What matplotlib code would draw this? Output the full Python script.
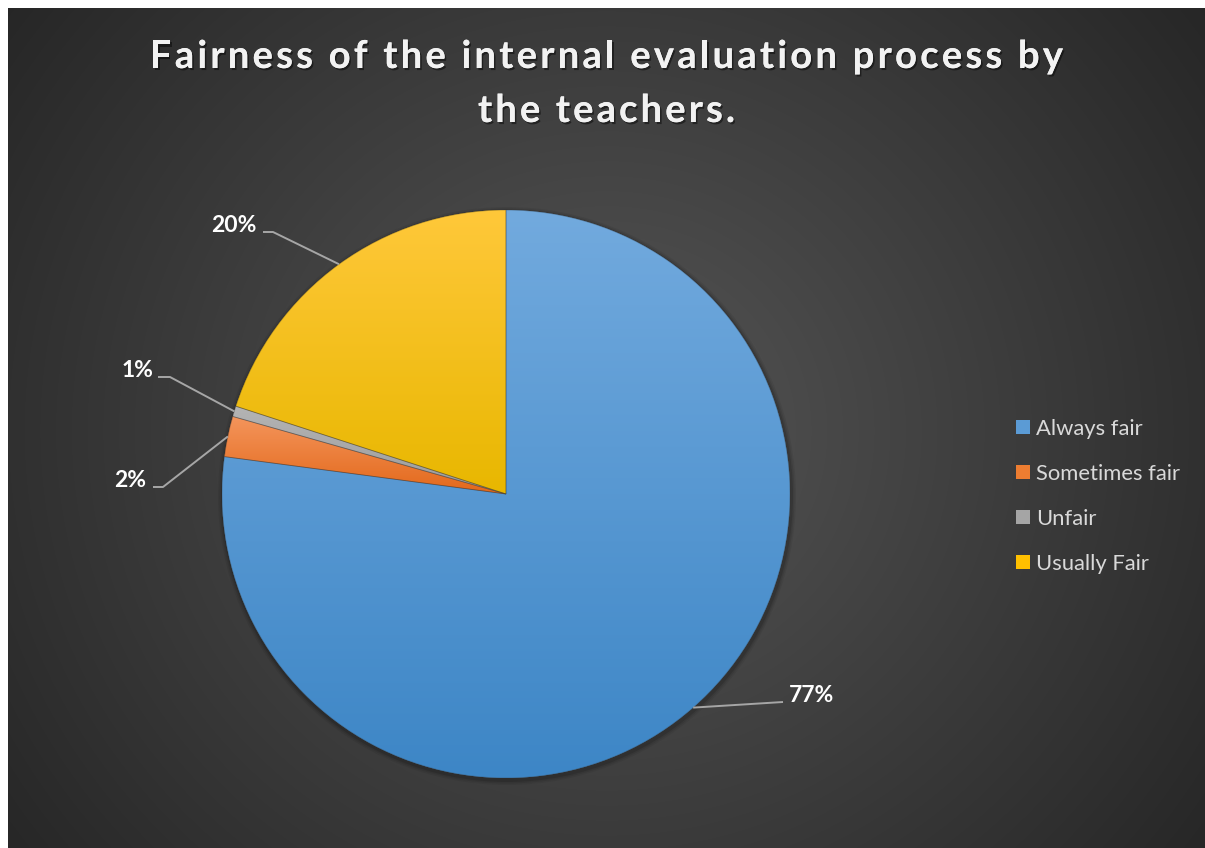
import numpy as np
import matplotlib
matplotlib.use("Agg")
import matplotlib.pyplot as plt
from matplotlib.patches import Rectangle, Circle, Wedge
from matplotlib.textpath import TextToPath
from matplotlib.font_manager import FontProperties
from matplotlib.colors import LinearSegmentedColormap
import matplotlib.patheffects as pe

# ---------------- data ----------------
categories = ["Always fair", "Sometimes fair", "Unfair", "Usually Fair"]
values = [77.1, 2.3, 0.6, 20.0]
pct_labels = ["77%", "2%", "1%", "20%"]
title_lines = ["Fairness of the internal evaluation process by", "the teachers."]

# ---------------- style ----------------
W, H = 1205, 848
top_colors = ["#72aade", "#f4955c", "#b4b4b4", "#ffc83a"]
bot_colors = ["#3d86c6", "#e3681a", "#9c9c9c", "#e8b700"]
legend_colors = ["#5b9bd5", "#ed7d31", "#a5a5a5", "#ffc000"]
FONT = "Lato"

fig = plt.figure(figsize=(W / 100, H / 100), dpi=100)
fig.patch.set_facecolor("white")
ax = fig.add_axes([0, 0, 1, 1])


def py(y):
    """convert pixel y (from top) into data y (from bottom)"""
    return H - y


# background radial gradient
xs = np.linspace(8, W, 480)
ys = np.linspace(0, H - 8, 340)
X, Y = np.meshgrid(xs, ys)
gcx, gcy = 606, py(430)
r = np.hypot((X - gcx) / 1.05, (Y - gcy)) / np.hypot(606 / 1.05, 430)
v = (86 - 48 * np.clip(r, 0, 1)) / 255
ax.imshow(np.dstack([v, v, v]), extent=[8, W + 2, -2, H - 8], origin="lower",
          zorder=0, interpolation="bilinear", aspect="auto")

# pie
cx, cy, R = 506, py(494), 284
# soft shadow
for k, a in [(5, 0.06), (3.5, 0.08), (2, 0.12)]:
    ax.add_patch(Circle((cx + 1, cy - 2), R + k, color="black", alpha=a, zorder=1, lw=0))

wedges, _ = ax.pie(values, center=(cx, cy), radius=R, startangle=90,
                   counterclock=False, colors=legend_colors,
                   wedgeprops=dict(linewidth=0, zorder=2))
for w, c1, c2 in zip(wedges, top_colors, bot_colors):
    w.set_zorder(2)
    ext = w.get_path().get_extents()
    cmap = LinearSegmentedColormap.from_list("g", [c2, c1])
    grad = np.linspace(0, 1, 256)[:, None]
    im = ax.imshow(grad, extent=[ext.x0, ext.x1, ext.y0, ext.y1], origin="lower",
                   cmap=cmap, zorder=3, aspect="auto", interpolation="bilinear")
    im.set_clip_path(w)
    ax.add_patch(Wedge((cx, cy), R, w.theta1, w.theta2, facecolor="none",
                       edgecolor=(0.2, 0.2, 0.2, 0.35), lw=0.6, zorder=4))

# data labels with leader lines (elbow, end in pixel coords; text anchor)
label_layout = {
    "77%": dict(elbow=None, end=(783, 702), text=(789, 702), ha="left"),
    "2%": dict(elbow=(163, 487), end=(153, 487), text=(146, 487), ha="right"),
    "1%": dict(elbow=(170, 377), end=(158, 377), text=(153, 377), ha="right"),
    "20%": dict(elbow=(273, 232), end=(263, 232), text=(257, 232), ha="right"),
}
for w, lab in zip(wedges, pct_labels):
    lay = label_layout[lab]
    th = np.deg2rad((w.theta1 + w.theta2) / 2)
    pts = [(cx + R * np.cos(th), cy + R * np.sin(th))]
    if lay["elbow"] is not None:
        pts.append((lay["elbow"][0], py(lay["elbow"][1])))
    pts.append((lay["end"][0], py(lay["end"][1])))
    pts = np.array(pts)
    ax.plot(pts[:, 0], pts[:, 1], color="#a6a6a6", lw=1.4, zorder=5,
            solid_capstyle="butt")
    ax.text(lay["text"][0], py(lay["text"][1]), lab, ha=lay["ha"], va="baseline",
            color="white", fontsize=16.5, fontweight="bold", family=FONT, zorder=6)

# legend
for i, (cat, col) in enumerate(zip(categories, legend_colors)):
    yc = py(427 + 45 * i)
    ax.add_patch(Rectangle((1016, yc - 7), 14, 14, facecolor=col, edgecolor="none", zorder=5))
    ax.text(1036, yc, cat, ha="left", va="center_baseline", color="#d9d9d9",
            fontsize=15.8, family=FONT, zorder=6)

# title with letter spacing
fp = FontProperties(family=FONT, weight="bold", size=27.5)
t2p = TextToPath()
shadow = [pe.withSimplePatchShadow(offset=(1.2, -1.5), shadow_rgbFace="black", alpha=0.45),
          pe.Normal()]


def tracked(line, x_left, x_right, base_y):
    n = len(line)
    nat = t2p.get_text_width_height_descent(line, fp, ismath=False)[0] * 100 / 72
    track = ((x_right - x_left) - nat) / max(n - 1, 1)
    for i, ch in enumerate(line):
        if ch == " ":
            continue
        pre = t2p.get_text_width_height_descent(line[:i], fp, ismath=False)[0] * 100 / 72 if i else 0
        ax.text(x_left + pre + track * i, py(base_y), ch, fontproperties=fp,
                color="#f2f2f2", ha="left", va="baseline", zorder=6,
                path_effects=shadow)


tracked(title_lines[0], 150, 1063, 68)
tracked(title_lines[1], 478, 735, 122)

ax.set_xlim(0, W)
ax.set_ylim(0, H)
ax.set_aspect("auto")
ax.axis("off")
fig.savefig("out.png", dpi=100, facecolor="white")
